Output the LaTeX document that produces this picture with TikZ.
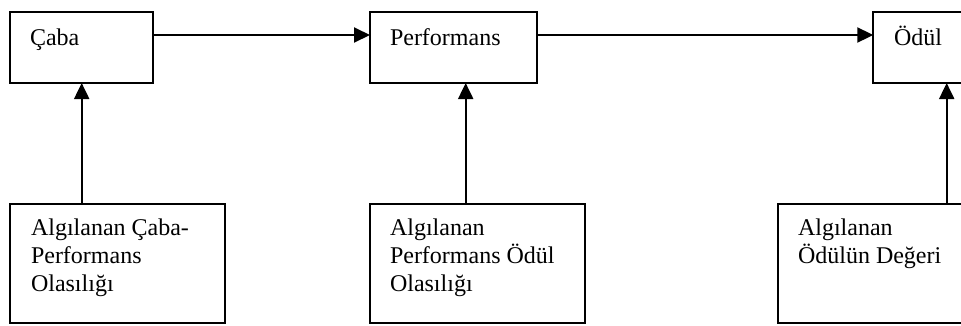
\documentclass[tikz,border=0pt]{standalone}
\usepackage{fontspec}
\setmainfont{Liberation Serif}
\usetikzlibrary{arrows.meta}
\begin{document}
\begin{tikzpicture}[x=1pt,y=-1pt,
  box/.style={draw, line width=2pt, rectangle, inner sep=0pt, outer sep=0pt, anchor=north west},
  lbl/.style={inner sep=0pt, outer sep=0pt, anchor=base west, font=\fontsize{24}{28}\selectfont},
  arr/.style={line width=2pt, -{Triangle[length=16pt,width=15pt]}}]
\clip (0,0) rectangle (961,325);
% top boxes
\node[box, minimum width=143pt, minimum height=71pt] (caba) at (10,12) {};
\node[box, minimum width=167pt, minimum height=71pt] (perf) at (370,12) {};
\node[box, minimum width=167pt, minimum height=71pt] (odul) at (873.3,12) {};
% bottom boxes
\node[box, minimum width=215pt, minimum height=119pt] (b1) at (10,204) {};
\node[box, minimum width=215pt, minimum height=119pt] (b2) at (370,204) {};
\node[box, minimum width=215pt, minimum height=119pt] (b3) at (777.7,204) {};
% labels
\node[lbl] (tcaba) at (30,45) {Çaba};
\node[lbl] (tperf) at (390,45) {Performans};
\node[lbl] (todul) at (894,45) {Ödül};
\node[lbl] (tb1) at (31,235.7) {\parbox[t]{200pt}{\fontsize{24}{28}\selectfont Algılanan Çaba-\\Performans\\Olasılığı}};
\node[lbl] (tb2) at (390,235.7) {\parbox[t]{200pt}{\fontsize{24}{28}\selectfont Algılanan\\Performans Ödül\\Olasılığı}};
\node[lbl] (tb3) at (798,235.7) {\parbox[t]{200pt}{\fontsize{24}{28}\selectfont Algılanan\\Ödülün Değeri}};
% connectors
\coordinate (h) at (0,35);
\draw[arr] (caba.east |- h) -- (perf.west |- h);
\draw[arr] (perf.east |- h) -- (odul.west |- h);
\coordinate (v1) at (81.7,0);
\coordinate (v2) at (465.7,0);
\coordinate (v3) at (946.7,0);
\draw[arr] (v1 |- b1.north) -- (v1 |- caba.south);
\draw[arr] (v2 |- b2.north) -- (v2 |- perf.south);
\draw[arr] (v3 |- b3.north) -- (v3 |- odul.south);
\end{tikzpicture}
\end{document}
